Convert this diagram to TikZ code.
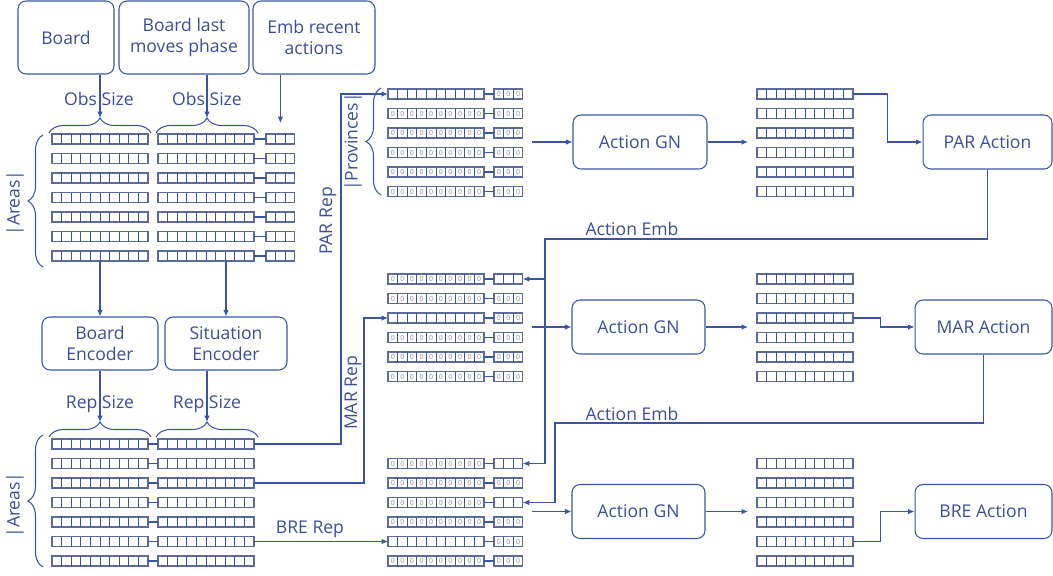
\documentclass[tikz,border=0pt]{standalone}
\usepackage{fontspec}
\setmainfont{Open Sans}
\usepackage{tikz}
\usetikzlibrary{arrows.meta,calc,decorations.pathreplacing}
\definecolor{NetBlue}{HTML}{3B55A2}
\definecolor{NetText}{HTML}{3D4F94}
\definecolor{CellEdge}{HTML}{5D6B98}
\definecolor{CellZero}{HTML}{8C909C}
% one row of cells: name, west point, number of cells, zeros (1/0)
\newcommand{\cellrow}[4]{%
  \node[vec, minimum width={#3*0.192cm}] (#1) at #2 {};
  \foreach \k in {1,...,#3}{%
    \ifnum\k<#3\relax
      \draw[NetBlue, line width=.5pt] ($(#1.north west)+(\k*9.6,0)$) -- ($(#1.south west)+(\k*9.6,0)$);
    \fi
    \ifnum#4=1\relax
      \node[zero] at ($(#1.west)+(\k*9.6-4.8,0)$) {0};
    \fi}%
}

\begin{document}
\begin{tikzpicture}[x=0.02cm,y=-0.02cm,
  blk/.style={draw=NetBlue,line width=.6pt,rounded corners=0.16cm,align=center,text=NetText,inner sep=0pt},
  vec/.style={draw=CellEdge,line width=.6pt,anchor=west,minimum height=0.2cm,inner sep=0pt,outer sep=0pt},
  zero/.style={font=\fontsize{4}{4}\selectfont,text=CellZero,inner sep=0pt},
  lbl/.style={text=NetText,inner sep=0pt},
  link/.style={draw=NetBlue,line width=.6pt},
  arr/.style={draw=NetBlue,line width=.6pt,-{Latex[length=1.3mm,width=1.1mm]}},
  brc/.style={draw=NetBlue,line width=.6pt,decorate,decoration={brace,amplitude=0.3cm}}]
  \useasboundingbox (0,0) rectangle (1053,575);

  % inputs and encoders
  \node[blk,minimum width=1.92cm,minimum height=1.46cm] (board) at (66,37.5) {Board};
  \node[blk,minimum width=2.6cm,minimum height=1.46cm] (lastmoves) at (184,37.5) {Board last\\moves phase};
  \node[blk,minimum width=2.44cm,minimum height=1.46cm] (recent) at (314,37.5) {Emb recent\\actions};
  \node[blk,minimum width=2.32cm,minimum height=1.06cm] (boardenc) at (100,343.5) {Board\\Encoder};
  \node[blk,minimum width=2.44cm,minimum height=1.06cm] (sitenc) at (226,343.5) {Situation\\Encoder};

  % observation rows
  \foreach \i in {1,...,7}{
    \pgfmathsetmacro\yy{139+19.5*(\i-1)}
    \cellrow{ta\i}{(52,\yy)}{10}{0}
    \cellrow{tb\i}{(158,\yy)}{10}{0}
    \cellrow{tc\i}{(266,\yy)}{3}{0}
    \draw[link] (tb\i) -- (tc\i);
  }
  % representation rows
  \foreach \i in {1,...,7}{
    \pgfmathsetmacro\yy{444+19.5*(\i-1)}
    \cellrow{ba\i}{(52,\yy)}{10}{0}
    \cellrow{bb\i}{(158,\yy)}{10}{0}
    \draw[link] (ba\i) -- (bb\i);
  }

  % braces
  \draw[brc] (49,133) -- (151,133);
  \draw[brc] (156,133) -- (258,133);
  \draw[brc] (49,437) -- (151,437);
  \draw[brc] (156,437) -- (258,437);
  \draw[brc] (43,267) -- (43,135);
  \draw[brc] (43,567) -- (43,435);
  \draw[brc] (381,195) -- (381,88);
  \coordinate (obsA) at (100,118);
  \coordinate (obsB) at (207,118);
  \coordinate (repA) at (100,422);
  \coordinate (repB) at (207,422);

  \node[lbl] (obsa) at (99,99) {Obs Size};
  \node[lbl] (obsb) at (207,99) {Obs Size};
  \node[lbl] (repa) at (100,404) {Rep Size};
  \node[lbl] (repb) at (207,404) {Rep Size};
  \node[lbl,rotate=90] (areast) at (15,203) {|Areas|};
  \node[lbl,rotate=90] (areasb) at (15,505) {|Areas|};
  \node[lbl,rotate=90] (provs) at (353,142) {|Provinces|};
  \node[lbl,rotate=90] (parrep) at (328,221) {PAR Rep};
  \node[lbl,rotate=90] (marrep) at (353,393) {MAR Rep};
  \node[lbl] (brerep) at (310,529) {BRE Rep};
  \node[lbl] (emba) at (632,229) {Action Emb};
  \node[lbl] (embb) at (632,414) {Action Emb};

  \draw[arr] (obsA |- board.south) -- (obsA);
  \draw[arr] (obsB |- lastmoves.south) -- (obsB);
  \draw[arr,shorten >=0.22cm] (tc1.north |- recent.south) -- (tc1.north);
  \draw[arr] (ta7.south) -- (ta7.south |- boardenc.north);
  \draw[arr] (sitenc.north |- tb7.south) -- (sitenc.north);
  \draw[arr] (boardenc.south) -- (repA);
  \draw[arr] (repB |- sitenc.south) -- (repB);

  % per-province rows: PAR, MAR, BRE
  \foreach \i/\za/\zc in {1/0/1,2/1/1,3/1/1,4/1/1,5/1/1,6/1/1}{
    \pgfmathsetmacro\yy{94+19.5*(\i-1)}
    \cellrow{pa\i}{(388,\yy)}{10}{\za}
    \cellrow{pc\i}{(494,\yy)}{3}{\zc}
    \draw[link] (pa\i) -- (pc\i);
    \cellrow{po\i}{(757,\yy)}{10}{0}
  }
  \foreach \i/\za/\zc in {1/1/0,2/1/1,3/0/1,4/1/1,5/1/1,6/1/1}{
    \pgfmathsetmacro\yy{279+19.5*(\i-1)}
    \cellrow{ma\i}{(388,\yy)}{10}{\za}
    \cellrow{mc\i}{(494,\yy)}{3}{\zc}
    \draw[link] (ma\i) -- (mc\i);
    \cellrow{mo\i}{(757,\yy)}{10}{0}
  }
  \foreach \i/\za/\zc in {1/1/0,2/1/1,3/1/0,4/1/1,5/0/1,6/1/1}{
    \pgfmathsetmacro\yy{463.5+19.5*(\i-1)}
    \cellrow{ra\i}{(388,\yy)}{10}{\za}
    \cellrow{rc\i}{(494,\yy)}{3}{\zc}
    \draw[link] (ra\i) -- (rc\i);
    \cellrow{ro\i}{(757,\yy)}{10}{0}
  }

  % action heads
  \node[blk,minimum width=2.68cm,minimum height=1.08cm] (gnpar) at (640,142) {Action GN};
  \node[blk,minimum width=2.66cm,minimum height=1.08cm] (gnmar) at (638.5,327) {Action GN};
  \node[blk,minimum width=2.66cm,minimum height=1.08cm] (gnbre) at (638.5,511.5) {Action GN};
  \node[blk,minimum width=2.58cm,minimum height=1.08cm] (actpar) at (987.5,142) {PAR Action};
  \node[blk,minimum width=2.74cm,minimum height=1.08cm] (actmar) at (983.5,327) {MAR Action};
  \node[blk,minimum width=2.74cm,minimum height=1.08cm] (actbre) at (983.5,511.5) {BRE Action};

  \coordinate (inpar) at (532,142);
  \coordinate (inmar) at (532,327);
  \coordinate (inbre) at (532,511.5);
  \coordinate (outpar) at (748,142);
  \coordinate (outmar) at (748,327);
  \coordinate (outbre) at (748,511.5);
  \coordinate (embpar) at (545,239);
  \coordinate (embmar) at (555,423);

  \draw[arr] (bb1.east) -| ($(pa1.west)+(-47,0)$) -- (pa1.west);
  \draw[arr] (bb3.east) -| ($(ma3.west)+(-24,0)$) -- (ma3.west);
  \draw[arr] (bb6.east) -- (ra5.west);
  \draw[arr] (inpar) -- (gnpar);
  \draw[arr] (inmar) -- (gnmar);
  \draw[arr] (inbre) -- (gnbre);
  \draw[arr] (gnpar) -- (outpar);
  \draw[arr] (gnmar) -- (outmar);
  \draw[arr] (gnbre) -- (outbre);
  \draw[arr] (po1.east) -| ($(actpar.west)+(-35,0)$) -- (actpar.west);
  \draw[arr] (mo3.east) -| ($(actmar.west)+(-34,0)$) -- (actmar.west);
  \draw[arr] (ro5.east) -| ($(actbre.west)+(-34,0)$) -- (actbre.west);
  \draw[arr] (actpar.south) |- (embpar) |- (mc1.east);
  \draw[arr] (embpar) |- (rc1.east);
  \draw[arr] (actmar.south) |- (embmar) |- (rc3.east);
\end{tikzpicture}
\end{document}
